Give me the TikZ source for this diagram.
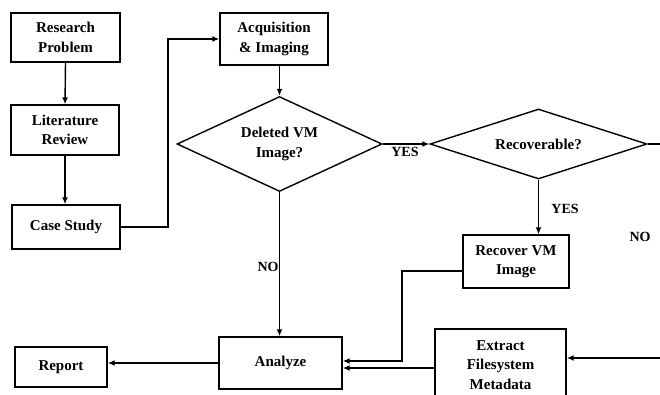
\documentclass[tikz,border=0pt]{standalone}
\usepackage{fontspec}
\setmainfont{Liberation Serif}
\usetikzlibrary{shapes.geometric,arrows.meta}
\tikzset{
  stepbox/.style={draw, line width=1.4pt, align=center, inner sep=0pt, font=\bfseries\fontsize{15}{19.5}\selectfont},
  choice/.style={draw, diamond, line width=1.4pt, align=center, inner sep=0pt, font=\bfseries\fontsize{15}{19.5}\selectfont},
  answer/.style={font=\bfseries\fontsize{14}{16}\selectfont},
  arr/.style={line width=1.4pt, -{Latex[length=7pt,width=6pt]}},
  link/.style={line width=1.4pt}
}
\begin{document}
\begin{tikzpicture}[x=1pt, y=-1pt]
\useasboundingbox (0,0) rectangle (660,395);

\node [stepbox, minimum width=109pt, minimum height=49pt] (rp) at (65.5,37.5) {Research\\Problem};
\node [stepbox, minimum width=108pt, minimum height=50pt] (lr) at (65,130) {Literature\\Review};
\node [stepbox, minimum width=108pt, minimum height=44pt] (cs) at (66,227) {Case Study};
\node [stepbox, minimum width=108pt, minimum height=52pt] (ai) at (274,39) {Acquisition\\\& Imaging};
\node [choice, aspect=2.16, minimum width=205pt, minimum height=95pt] (del) at (279.5,144) {Deleted VM\\Image?};
\node [choice, aspect=3.1, minimum width=217pt, minimum height=70pt] (rec) at (538.5,144) {Recoverable?};
\node [stepbox, minimum width=106pt, minimum height=53pt] (rvi) at (516,261.5) {Recover VM\\Image};
\node [stepbox, minimum width=123pt, minimum height=52pt] (an) at (280.5,363) {Analyze};
\node [stepbox, minimum width=92pt, minimum height=40pt] (rep) at (61,367) {Report};
\node [stepbox, minimum width=131pt, minimum height=72pt] (ext) at (500.5,365) {Extract\\Filesystem\\Metadata};

\node [answer] (yes1) at (405,152) {YES};
\node [answer] (yes2) at (565,209) {YES};
\node [answer] (no1) at (268,267) {NO};
\node [answer] (no2) at (640,237) {NO};

\coordinate (outrec) at (660,144);
\coordinate (inext) at (660,358);

\draw [arr] (rp.south) -- (lr.north);
\draw [arr] (lr.south) -- (lr.south |- cs.north);
\draw [arr] (cs.east) -- (168,227) |- (ai.west);
\draw [arr] (del.north |- ai.south) -- (del.north);
\draw [arr] (del.east) -- (rec.west);
\draw [link] (rec.east) -- (outrec);
\draw [arr] (rec.south) -- (rec.south |- rvi.north);
\draw [arr] (del.south) -- (del.south |- an.north);
\draw [arr] ([yshift=-9.5pt]rvi.west) -- (402,271) |- ([yshift=2pt]an.east);
\draw [arr] ([yshift=-3pt]ext.west) -- ([yshift=-5pt]an.east);
\draw [arr] (inext) -- (inext -| ext.east);
\draw [arr] (an.west) -- (an.west -| rep.east);
\end{tikzpicture}
\end{document}
